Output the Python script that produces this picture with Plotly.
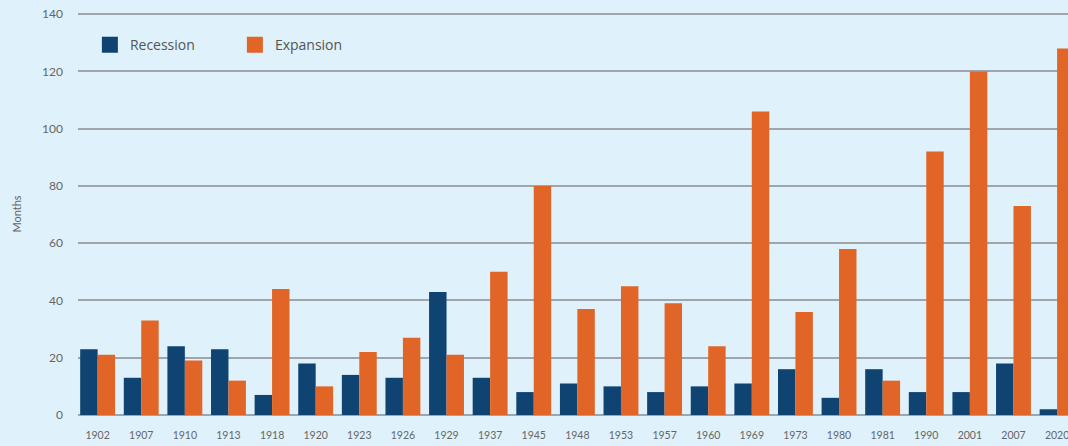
import plotly.graph_objects as go

years = ["1902", "1907", "1910", "1913", "1918", "1920", "1923", "1926", "1929", "1937",
         "1945", "1948", "1953", "1957", "1960", "1969", "1973", "1980", "1981", "1990",
         "2001", "2007", "2020"]
recession = [23, 13, 24, 23, 7, 18, 14, 13, 43, 13, 8, 11, 10, 8, 10, 11, 16, 6, 16, 8, 8, 18, 2]
expansion = [21, 33, 19, 12, 44, 10, 22, 27, 21, 50, 80, 37, 45, 39, 24, 106, 36, 58, 12, 92, 120, 73, 128]
y_ticks = [0, 20, 40, 60, 80, 100, 120, 140]

NAVY = "#0f4372"
ORANGE = "#e06526"
BG = "#dff1fa"
GRID = "#9ea6ab"

fig = go.Figure()
fig.add_trace(go.Bar(x=years, y=recession, name="Recession", marker_color=NAVY,
                     marker_line_width=0, showlegend=False))
fig.add_trace(go.Bar(x=years, y=expansion, name="Expansion", marker_color=ORANGE,
                     marker_line_width=0, showlegend=False))
# legend entries with larger square swatches
fig.add_trace(go.Scatter(x=[None], y=[None], mode="markers", name="Recession",
                         marker=dict(symbol="square", size=16, color=NAVY)))
fig.add_trace(go.Scatter(x=[None], y=[None], mode="markers", name="Expansion",
                         marker=dict(symbol="square", size=16, color=ORANGE)))

fig.update_layout(
    width=1068, height=446,
    margin=dict(l=78, r=0, t=13, b=31),
    paper_bgcolor=BG, plot_bgcolor=BG,
    barmode="group", bargap=0.2, bargroupgap=0,
    font=dict(family="Lato, Open Sans, sans-serif", color="#666"),
    legend=dict(orientation="h", x=0.012, y=0.92, xanchor="left", yanchor="middle",
                bgcolor="rgba(0,0,0,0)",
                font=dict(family="Open Sans, sans-serif", size=14, color="#555"),
                itemsizing="trace", itemwidth=30, tracegroupgap=0, entrywidthmode="pixels",
                entrywidth=100),
    xaxis=dict(type="category", range=[-0.45, 22.25], showgrid=False, showline=False,
               ticks="", tickfont=dict(size=10.5, color="#666"), tickangle=0,
               ticklabelstandoff=12),
    yaxis=dict(range=[0, 140.4], tickvals=y_ticks, showgrid=True, gridcolor=GRID,
               gridwidth=1.8, zeroline=True, zerolinecolor=GRID, zerolinewidth=1.8,
               tickfont=dict(size=12, color="#666"), ticks="", ticklabelstandoff=14,
               title=dict(text="Months", font=dict(size=11, color="#666"), standoff=18)),
)

fig.write_html("out.html")
